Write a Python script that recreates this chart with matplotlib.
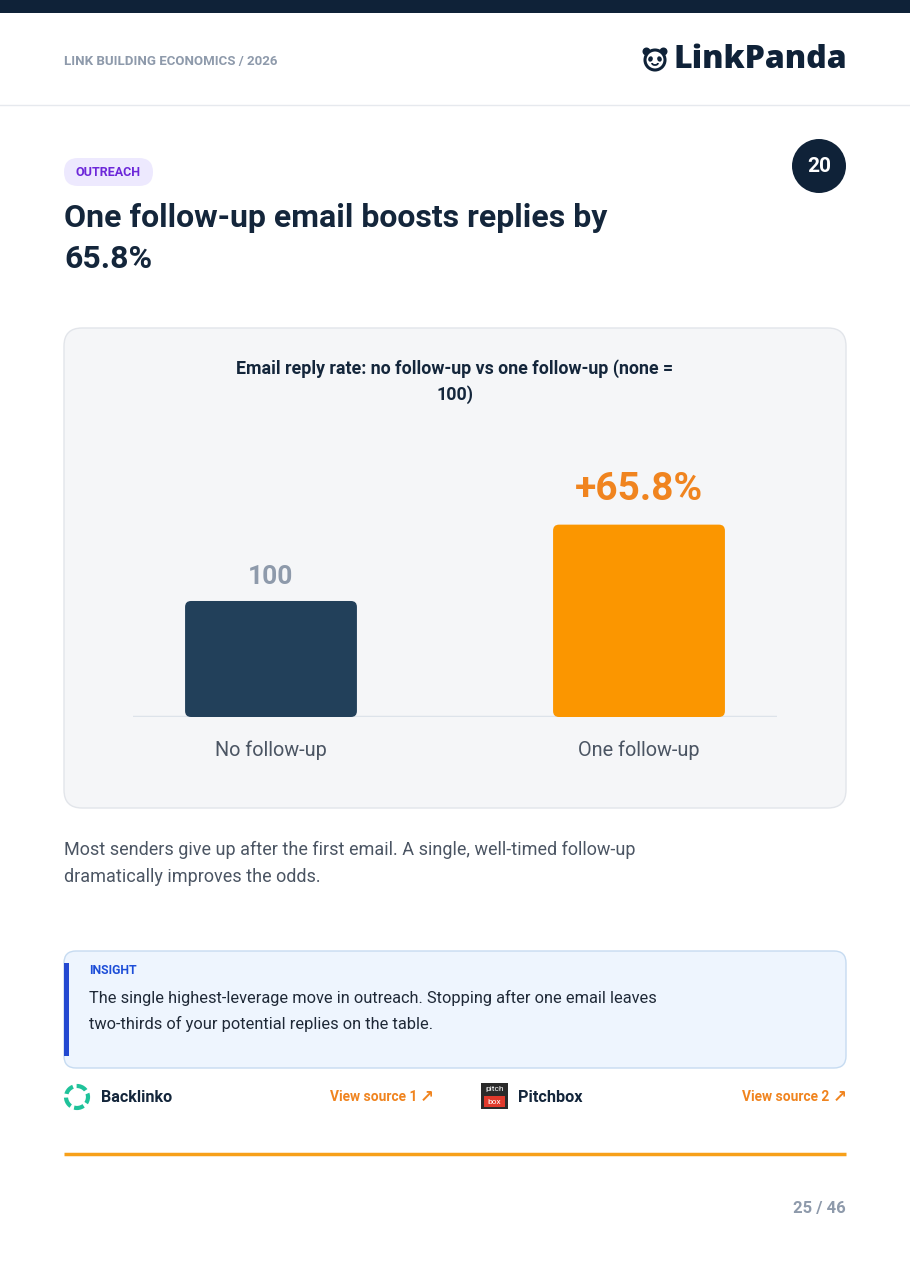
import matplotlib
matplotlib.use("Agg")
import matplotlib.pyplot as plt
from matplotlib.patches import FancyBboxPatch, Rectangle, Circle, Ellipse, Arc

plt.rcParams['font.family'] = ['Roboto', 'DejaVu Sans']

# data
categories = ["No follow-up", "One follow-up"]
values = [100, 165.8]
value_labels = ["100", "+65.8%"]

NAVY = "#0f2238"
DARK = "#14263b"
GRAY = "#8e9aab"
TEXT = "#4b5563"
ORANGE = "#f0841f"

fig = plt.figure(figsize=(9.1, 12.87), dpi=100)
fig.patch.set_facecolor("white")

# page overlay in pixel coords
bg = fig.add_axes([0, 0, 1, 1], zorder=0)
bg.set_xlim(0, 910)
bg.set_ylim(1287, 0)
bg.axis("off")

def rbox(x0, y0, x1, y1, r, fc, ec="none", lw=1, z=1):
    p = FancyBboxPatch((x0, y0), x1 - x0, y1 - y0,
                       boxstyle=f"round,pad=0,rounding_size={r}",
                       fc=fc, ec=ec, lw=lw, zorder=z)
    bg.add_patch(p)
    return p

# top strip and header
bg.add_patch(Rectangle((0, 0), 910, 13, fc=NAVY, ec="none"))
bg.text(64, 61, "LINK BUILDING ECONOMICS / 2026", fontsize=9.5, fontweight="bold",
        color=GRAY, va="center")
bg.plot([0, 910], [105, 105], color="#e6e9ee", lw=1)

# panda logo
bg.add_patch(Circle((646.5, 51.5), 4, fc=NAVY, ec="none", zorder=2))
bg.add_patch(Circle((663.5, 51.5), 4, fc=NAVY, ec="none", zorder=2))
bg.add_patch(Circle((655, 60), 10, fc="white", ec=NAVY, lw=2.2, zorder=3))
bg.add_patch(Ellipse((650.5, 59), 4.5, 5.5, angle=20, fc=NAVY, zorder=4))
bg.add_patch(Ellipse((659.5, 59), 4.5, 5.5, angle=-20, fc=NAVY, zorder=4))
bg.add_patch(Arc((655, 63), 6, 4, theta1=0, theta2=180, color=NAVY, lw=1.3, zorder=4))
bg.text(847, 60, "LinkPanda", fontsize=23, fontweight="heavy", color=NAVY,
        ha="right", va="center", family=["Open Sans", "DejaVu Sans"])

# tag pill and number badge
rbox(64, 158, 153, 186, 14, "#ede9fe")
bg.text(108.5, 173, "OUTREACH", fontsize=9, fontweight="bold", color="#6d28d9",
        ha="center", va="center")
bg.add_patch(Circle((819, 166), 27, fc=NAVY, ec="none"))
bg.text(819, 166, "20", fontsize=15, fontweight="bold", color="white",
        ha="center", va="center")

# title
bg.text(64, 218, "One follow-up email boosts replies by", fontsize=23,
        fontweight="bold", color=DARK, va="center")
bg.text(64, 259, "65.8%", fontsize=23, fontweight="bold", color=DARK, va="center")

# chart card
rbox(64, 328, 846, 808, 18, "#f5f6f8", ec="#e2e5ea", lw=1)
bg.text(455, 369, "Email reply rate: no follow-up vs one follow-up (none =",
        fontsize=12.8, fontweight="bold", color=DARK, ha="center", va="center")
bg.text(455, 395, "100)", fontsize=12.8, fontweight="bold", color=DARK,
        ha="center", va="center")

# bar chart
ax = fig.add_axes([133 / 910, (1287 - 717) / 1287, 644 / 910, 297 / 1287], zorder=1)
ax.patch.set_alpha(0)
ax.set_xlim(-0.375, 1.375)
ax.set_ylim(0, 256)
for s in ax.spines.values():
    s.set_visible(False)
ax.set_yticks([])
ax.axhline(0, color="#dde3ea", lw=2.5, zorder=1)

x = [0, 1]
bars = ax.bar(x, values, width=0.467, color=["#22405a", "#fb9600"])
# swap plain rectangles for rounded ones
px_x = 1 / 368
px_y = 1 / 1.16
for b in bars:
    b.set_visible(False)
    rb = FancyBboxPatch((b.get_x(), b.get_y()), b.get_width(), b.get_height(),
                        boxstyle=f"round,pad=0,rounding_size={6 * px_x}",
                        mutation_aspect=px_y / px_x,
                        fc=b.get_facecolor(), ec="none", zorder=2)
    ax.add_patch(rb)

ax.annotate(value_labels[0], (x[0], values[0]), xytext=(0, 24), textcoords="offset pixels",
            ha="center", va="center", fontsize=19, fontweight="bold", color=GRAY)
ax.annotate(value_labels[1], (x[1], values[1]), xytext=(0, 35), textcoords="offset pixels",
            ha="center", va="center", fontsize=28, fontweight="bold", color=ORANGE)

ax.set_xticks(x)
ax.set_xticklabels(categories, fontsize=14.3, color=TEXT)
ax.tick_params(axis="x", length=0, pad=17)

# paragraph
bg.text(64, 850, "Most senders give up after the first email. A single, well-timed follow-up",
        fontsize=13, color=TEXT, va="center")
bg.text(64, 877, "dramatically improves the odds.", fontsize=13, color=TEXT, va="center")

# insight box
rbox(64, 951, 846, 1068, 12, "#eef5fe", ec="#c6dbf1", lw=1)
bg.add_patch(Rectangle((64, 963), 4.5, 93, fc="#2349d1", ec="none", zorder=3))
bg.text(89, 971, "INSIGHT", fontsize=8.8, fontweight="bold", color="#1d4ed8", va="center")
bg.text(89, 998, "The single highest-leverage move in outreach. Stopping after one email leaves",
        fontsize=11.8, color="#1f2937", va="center")
bg.text(89, 1024, "two-thirds of your potential replies on the table.",
        fontsize=11.8, color="#1f2937", va="center")

# sources
bg.add_patch(Circle((77, 1097), 11, fc="none", ec="#1fc29a", lw=3,
                    ls=(0, (2.4, 0.9)), zorder=3))
bg.text(101, 1097, "Backlinko", fontsize=11.6, fontweight="bold", color=DARK, va="center")
bg.text(417, 1097, "View source 1", fontsize=9.9, fontweight="bold", color=ORANGE,
        ha="right", va="center")
bg.text(434, 1097, "\u2197", fontsize=12, fontweight="bold", color=ORANGE,
        ha="right", va="center", family="DejaVu Sans")

bg.add_patch(Rectangle((481, 1083), 27, 26, fc="#2a2a2a", ec="none", zorder=3))
bg.add_patch(Rectangle((484, 1096), 21, 11, fc="#e0392b", ec="none", zorder=4))
bg.text(494.5, 1089.5, "pitch", fontsize=6, color="white", ha="center", va="center", zorder=5)
bg.text(494.5, 1101.5, "box", fontsize=6, color="white", ha="center", va="center", zorder=5)
bg.text(518, 1097, "Pitchbox", fontsize=11.7, fontweight="bold", color=DARK, va="center")
bg.text(829, 1097, "View source 2", fontsize=9.9, fontweight="bold", color=ORANGE,
        ha="right", va="center")
bg.text(847, 1097, "\u2197", fontsize=12, fontweight="bold", color=ORANGE,
        ha="right", va="center", family="DejaVu Sans")

# footer
bg.plot([64, 846], [1154, 1154], color="#f7a01a", lw=2.5, solid_capstyle="butt")
bg.text(846, 1209, "25 / 46", fontsize=12, fontweight="bold", color=GRAY,
        ha="right", va="center")

fig.savefig("out.png", dpi=100, facecolor="white")
